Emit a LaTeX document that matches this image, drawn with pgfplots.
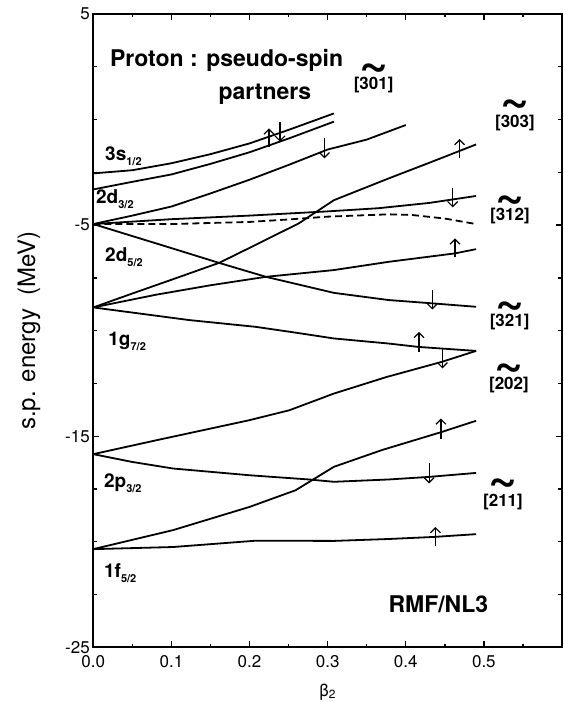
\documentclass[border=0pt]{standalone}
\usepackage{fontspec}
\setmainfont{TeX Gyre Heros}
\usepackage{pgfplots}
\pgfplotsset{compat=1.18}
\usetikzlibrary{arrows.meta}
\newcommand{\lvl}[2]{\fontsize{19}{19}\selectfont\bfseries #1\raisebox{-5pt}{\fontsize{11}{11}\selectfont\bfseries #2}}
\newcommand{\tld}{\fontsize{50}{50}\selectfont\bfseries\textasciitilde}
\newcommand{\orb}[1]{\fontsize{17}{17}\selectfont\bfseries [#1]}
\newsavebox{\labbox}
\newcommand{\lab}[2]{\sbox{\labbox}{\orb{#1}}\rlap{\makebox[\wd\labbox]{\raisebox{#2}[0pt][0pt]{\tld}}}\usebox{\labbox}}
\begin{document}
\begin{tikzpicture}
\begin{axis}[
  scale only axis, width=468.7pt, height=633.3pt,
  xmin=0, xmax=0.6, ymin=-25, ymax=5,
  xtick={0,0.1,0.2,0.3,0.4,0.5}, xticklabels={0.0,0.1,0.2,0.3,0.4,0.5},
  minor xtick={0.05,0.15,0.25,0.35,0.45,0.55},
  ytick={-25,-15,-5,5}, yticklabels={-25,-15,-5,5},
  minor ytick={-22.5,-20,-17.5,-12.5,-10,-7.5,-2.5,0,2.5},
  tick align=inside, tick pos=both,
  major tick length=6pt, minor tick length=3.5pt,
  every tick/.style={black, line width=1.4pt},
  axis line style={line width=2.2pt},
  tick label style={font=\fontsize{17}{17}\selectfont},
  xticklabel style={yshift=-5pt},
  xlabel={\fontsize{17}{17}\selectfont β\textsubscript{2}},
  every axis x label/.style={at={(axis description cs:0.5,-0.0706)}, anchor=center},
  ylabel={\fontsize{24}{24}\selectfont s.p. energy\ \ (MeV)},
  every axis y label/.style={at={(axis description cs:-0.1372,0.5)}, rotate=90, anchor=center},
  clip=false,
]
% curves
\addplot[line width=1.8pt, line join=round] coordinates {(0,-2.55) (0.05,-2.4) (0.1,-2.07) (0.15,-1.64) (0.2,-1.13) (0.25,-0.49) (0.308,0.29)};
\addplot[line width=1.8pt, line join=round] coordinates {(0,-3.31) (0.05,-2.95) (0.1,-2.6) (0.15,-2.1) (0.2,-1.55) (0.25,-0.9) (0.308,-0.1)};
\addplot[line width=1.8pt, line join=round] coordinates {(0,-4.95) (0.05,-4.55) (0.1,-4.12) (0.15,-3.5) (0.2,-2.85) (0.25,-2.15) (0.3,-1.42) (0.35,-0.95) (0.4,-0.26)};
\addplot[line width=1.8pt, line join=round] coordinates {(0,-8.9) (0.05,-8.24) (0.1,-7.59) (0.161,-6.79) (0.2,-6.08) (0.263,-4.92) (0.308,-3.82) (0.378,-2.79) (0.43,-2.05) (0.49,-1.18)};
\addplot[line width=1.8pt, line join=round] coordinates {(0,-4.95) (0.1,-4.72) (0.2,-4.55) (0.3,-4.35) (0.365,-4.2) (0.43,-3.95) (0.49,-3.62)};
\addplot[line width=1.8pt, dash pattern=on 7pt off 4pt] coordinates {(0,-4.95) (0.1,-4.95) (0.2,-4.85) (0.251,-4.73) (0.3,-4.6) (0.378,-4.49) (0.408,-4.52) (0.45,-4.69) (0.49,-4.95)};
\addplot[line width=1.8pt, line join=round] coordinates {(0,-4.95) (0.05,-5.52) (0.1,-6.09) (0.161,-6.79) (0.221,-7.45) (0.308,-8.21) (0.378,-8.55) (0.435,-8.71) (0.49,-8.87)};
\addplot[line width=1.8pt, line join=round] coordinates {(0,-8.9) (0.08,-8.3) (0.15,-7.85) (0.221,-7.45) (0.308,-7.13) (0.378,-6.74) (0.463,-6.34) (0.49,-6.14)};
\addplot[line width=1.8pt, line join=round] coordinates {(0,-8.9) (0.123,-9.5) (0.208,-9.82) (0.26,-10.1) (0.308,-10.37) (0.378,-10.61) (0.416,-10.77) (0.49,-10.96)};
\addplot[line width=1.8pt, line join=round] coordinates {(0,-15.85) (0.081,-15.19) (0.2,-14.24) (0.251,-13.77) (0.308,-12.98) (0.375,-12.2) (0.446,-11.48) (0.49,-10.96)};
\addplot[line width=1.8pt, line join=round] coordinates {(0,-15.85) (0.05,-16.22) (0.102,-16.53) (0.2,-16.85) (0.276,-17.05) (0.308,-17.16) (0.378,-17.05) (0.429,-16.93) (0.49,-16.74)};
\addplot[line width=1.8pt, line join=round] coordinates {(0,-20.35) (0.102,-19.45) (0.2,-18.35) (0.259,-17.56) (0.308,-16.45) (0.37,-15.65) (0.446,-14.8) (0.49,-14.27)};
\addplot[line width=1.8pt, line join=round] coordinates {(0,-20.35) (0.102,-20.25) (0.208,-19.95) (0.308,-19.96) (0.378,-19.87) (0.437,-19.77) (0.49,-19.64)};
% spin arrows
\addplot[line width=1.2pt, -{Straight Barb[length=5pt,width=10pt]}, quiver={u=\thisrow{u},v=\thisrow{v}}] table {
x y u v
0.225 -1.29 0 0.87
0.239 -0.10 0 -0.95
0.296 -0.89 0 -0.95
0.469 -1.84 0 0.92
0.460 -3.26 0 -0.90
0.463 -6.53 0 0.90
0.434 -8.08 0 -0.92
0.417 -11.00 0 0.94
0.447 -10.85 0 -0.94
0.445 -15.11 0 0.95
0.430 -16.29 0 -0.95
0.438 -20.21 0 0.91
};
% texts
\node[anchor=base west, inner sep=0, font=\fontsize{23}{23}\selectfont\bfseries] at (axis cs:0.02127,2.502) {Proton : pseudo-spin};
\node[anchor=base, inner sep=0, font=\fontsize{23}{23}\selectfont\bfseries] at (axis cs:0.2197,0.957) {partners};
\node[anchor=center, inner sep=0, font=\fontsize{23}{23}\selectfont\bfseries] at (axis cs:0.4417,-22.96) {RMF/NL3};
\node[anchor=base west, inner sep=0] at (axis cs:0.01503,-1.919) {\lvl{3s}{1/2}};
\node[anchor=base west, inner sep=0] at (axis cs:0.00344,-3.972) {\lvl{2d}{3/2}};
\node[anchor=base west, inner sep=0] at (axis cs:0.01503,-6.739) {\lvl{2d}{5/2}};
\node[anchor=base west, inner sep=0] at (axis cs:0.0191,-10.71) {\lvl{1g}{7/2}};
\node[anchor=base west, inner sep=0] at (axis cs:0.01363,-17.43) {\lvl{2p}{3/2}};
\node[anchor=base west, inner sep=0] at (axis cs:0.01363,-21.67) {\lvl{1f}{5/2}};
\node[anchor=center, inner sep=0] at (axis cs:0.3589,1.635) {\lab{301}{10.2pt}};
\node[anchor=center, inner sep=0] at (axis cs:0.5398,-0.142) {\lab{303}{11.9pt}};
\node[anchor=center, inner sep=0] at (axis cs:0.5334,-4.55) {\lab{312}{8.8pt}};
\node[anchor=center, inner sep=0] at (axis cs:0.533,-9.583) {\lab{321}{9pt}};
\node[anchor=center, inner sep=0] at (axis cs:0.5321,-12.559) {\lab{202}{9.6pt}};
\node[anchor=center, inner sep=0] at (axis cs:0.5245,-18.104) {\lab{211}{11.4pt}};
\end{axis}
\pgfresetboundingbox
\path[use as bounding box] (-93.3pt,-54.7pt) rectangle (470.7pt,647.3pt);
\end{tikzpicture}
\end{document}
